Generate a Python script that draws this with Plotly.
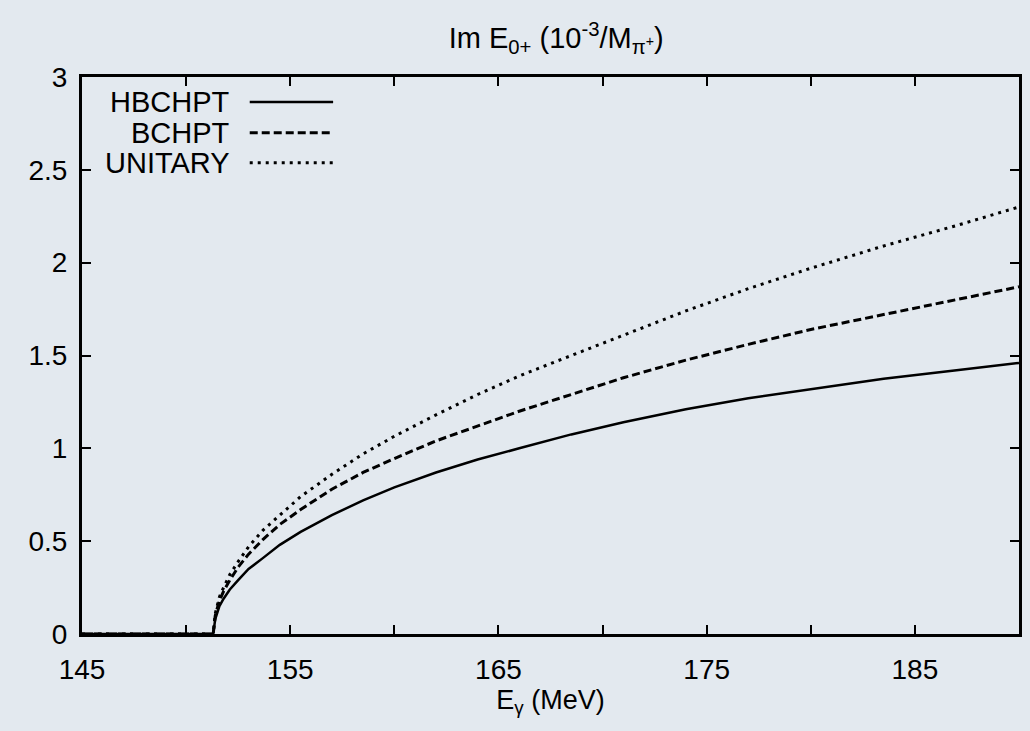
import plotly.graph_objects as go

# Photon energy (MeV)
energy = [145, 151.3, 151.4, 151.6, 151.8, 152.1, 152.5, 153, 153.7, 154.5, 155.5, 157,
          158.5, 160, 162, 164, 166, 168.5, 171, 174, 177, 180, 183.5, 187, 190]
# Im E0+ (10^-3 / M_pi+)
hbchpt = [0, 0, 0.08, 0.15, 0.19, 0.24, 0.29, 0.35, 0.41, 0.48, 0.55, 0.64,
          0.72, 0.79, 0.87, 0.94, 1.00, 1.075, 1.14, 1.21, 1.27, 1.32, 1.375, 1.42, 1.46]
bchpt = [0, 0, 0.10, 0.18, 0.23, 0.29, 0.36, 0.43, 0.51, 0.59, 0.67, 0.78,
         0.87, 0.945, 1.04, 1.12, 1.20, 1.29, 1.38, 1.475, 1.56, 1.64, 1.72, 1.80, 1.87]
unitary = [0, 0, 0.11, 0.20, 0.25, 0.32, 0.39, 0.47, 0.56, 0.64, 0.74, 0.86,
           0.97, 1.065, 1.18, 1.29, 1.39, 1.50, 1.61, 1.74, 1.86, 1.97, 2.09, 2.20, 2.30]

series_names = ["HBCHPT", "BCHPT", "UNITARY"]
series_dash = ["solid", "8px,4px", "3px,5px"]
series_width = [2.5, 3, 3]

x_tickvals = [145, 150, 155, 160, 165, 170, 175, 180, 185, 190]
x_ticktext = ["145", "", "155", "", "165", "", "175", "", "185", ""]
y_tickvals = [0, 0.5, 1, 1.5, 2, 2.5, 3]
y_ticktext = ["0", "0.5", "1", "1.5", "2", "2.5", "3"]

FONT = "Liberation Sans, Arial, sans-serif"
BG = "#e3e9ef"

fig = go.Figure()
for name, ys, dash, w in zip(series_names, [hbchpt, bchpt, unitary], series_dash, series_width):
    fig.add_trace(go.Scatter(x=energy, y=ys, mode="lines", name=name,
                             line=dict(color="black", width=w, dash=dash),
                             showlegend=False))

# gnuplot-style legend: right-aligned text with sample line on the right
leg_y = [0.955, 0.9, 0.846]
for name, yy, dash, w in zip(series_names, leg_y, series_dash, series_width):
    fig.add_annotation(text=name, xref="paper", yref="paper", x=0.160, y=yy,
                       xanchor="right", yanchor="middle", showarrow=False,
                       font=dict(size=29, color="black", family=FONT))
    fig.add_shape(type="line", xref="paper", yref="paper", x0=0.179, x1=0.268,
                  y0=yy, y1=yy, line=dict(color="black", width=w, dash=dash))

axis_common = dict(showline=True, linecolor="black", linewidth=3, mirror="ticks",
                   ticks="inside", ticklen=9, tickwidth=2, tickcolor="black",
                   showgrid=False, zeroline=False, layer="above traces",
                   tickfont=dict(size=28, color="black", family=FONT))

fig.update_layout(
    width=1030, height=731,
    margin=dict(l=82, r=8, t=77, b=97),
    paper_bgcolor=BG, plot_bgcolor=BG,
    font=dict(family=FONT, color="black"),
    title=dict(text="Im E<sub>0+</sub> (10<sup>-3</sup>/M<sub>π<sup>+</sup></sub>)",
               x=0.54, xanchor="center", y=0.948, yanchor="middle", yref="container",
               font=dict(size=29, color="black", family=FONT)),
    xaxis=dict(range=[145, 190], tickvals=x_tickvals, ticktext=x_ticktext,
               ticklabelstandoff=8,
               title=dict(text="E<sub>γ</sub> (MeV)", font=dict(size=27, family=FONT), standoff=4),
               **axis_common),
    yaxis=dict(range=[0, 3], tickvals=y_tickvals, ticktext=y_ticktext,
               ticklabelstandoff=6, **axis_common),
)

fig.write_html("out.html")
